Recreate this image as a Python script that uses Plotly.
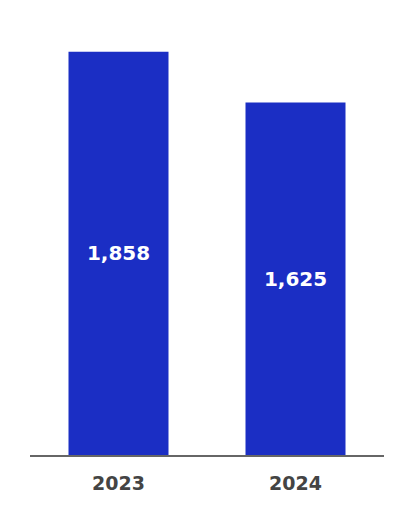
import plotly.graph_objects as go

years = ["2023", "2024"]
values = [1858, 1625]
labels = ["1,858", "1,625"]

fig = go.Figure(go.Bar(
    x=years, y=values, text=labels,
    textposition="inside", insidetextanchor="middle",
    textfont=dict(family="DejaVu Sans", size=20, color="white", weight="bold"),
    marker=dict(color="#1B2EC4", line=dict(width=0)),
    hoverinfo="skip",
))
fig.update_layout(
    width=414, height=528,
    margin=dict(l=22, r=38, t=13, b=81),
    paper_bgcolor="white", plot_bgcolor="white",
    bargap=0.435, showlegend=False,
)
fig.update_xaxes(
    showline=True, linecolor="#666666", linewidth=2,
    tickfont=dict(family="DejaVu Sans", size=19, color="#444444", weight="bold"),
    ticks="", ticklabelstandoff=10, showgrid=False,
)
fig.update_yaxes(range=[0, 2000], visible=False, showgrid=False)
fig.write_html("out.html")
